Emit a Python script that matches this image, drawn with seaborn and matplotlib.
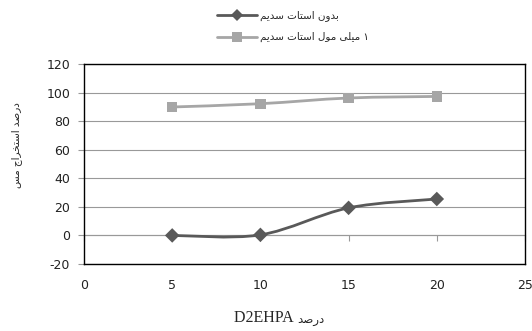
import matplotlib
matplotlib.use("Agg")
import matplotlib.pyplot as plt
import numpy as np
import pandas as pd
import seaborn as sns
from matplotlib.path import Path
from matplotlib.patches import PathPatch
from matplotlib.lines import Line2D

# ---- data -------------------------------------------------------------
d2ehpa_pct = [5, 10, 15, 20]
no_acetate = [0.0, 0.4, 19.3, 25.5]
acetate_1mm = [89.9, 92.2, 96.2, 97.3]

series_names = ["بدون استات سدیم", "۱ میلی مول استات سدیم"]
y_title = "درصد استخراج مس"
x_title_word = "درصد"
x_title_latin = "D2EHPA"
x_ticks = [0, 5, 10, 15, 20, 25]
y_ticks = [-20, 0, 20, 40, 60, 80, 100, 120]

# ---- minimal Persian shaping (presentation forms, visual order) -------
# forms: isolated, final, initial, medial
FORMS = {
    "ا": ("\uFE8D", "\uFE8E", None, None),
    "ب": ("\uFE8F", "\uFE90", "\uFE91", "\uFE92"),
    "ت": ("\uFE95", "\uFE96", "\uFE97", "\uFE98"),
    "ج": ("\uFE9D", "\uFE9E", "\uFE9F", "\uFEA0"),
    "خ": ("\uFEA5", "\uFEA6", "\uFEA7", "\uFEA8"),
    "د": ("\uFEA9", "\uFEAA", None, None),
    "ر": ("\uFEAD", "\uFEAE", None, None),
    "س": ("\uFEB1", "\uFEB2", "\uFEB3", "\uFEB4"),
    "ص": ("\uFEB9", "\uFEBA", "\uFEBB", "\uFEBC"),
    "ل": ("\uFEDD", "\uFEDE", "\uFEDF", "\uFEE0"),
    "م": ("\uFEE1", "\uFEE2", "\uFEE3", "\uFEE4"),
    "ن": ("\uFEE5", "\uFEE6", "\uFEE7", "\uFEE8"),
    "و": ("\uFEED", "\uFEEE", None, None),
    "ی": ("\uFEEF", "\uFEF0", "\uFEF3", "\uFEF4"),
}


def shape(text):
    out = []
    chars = list(text)
    for i, c in enumerate(chars):
        if c not in FORMS:
            out.append(c)
            continue
        prev = chars[i - 1] if i > 0 else None
        nxt = chars[i + 1] if i + 1 < len(chars) else None
        joins_prev = prev in FORMS and FORMS[prev][2] is not None
        joins_next = nxt in FORMS and FORMS[c][2] is not None
        iso, fin, ini, med = FORMS[c]
        if joins_prev and joins_next:
            out.append(med)
        elif joins_prev:
            out.append(fin)
        elif joins_next:
            out.append(ini)
        else:
            out.append(iso)
    return "".join(reversed(out))


def bezier_path(xs, ys):
    """Smoothed line through the points (Catmull-Rom as cubic Bezier)."""
    pts = np.column_stack([xs, ys]).astype(float)
    n = len(pts)
    verts = [pts[0]]
    codes = [Path.MOVETO]
    for i in range(n - 1):
        p_prev = pts[max(i - 1, 0)]
        p0, p1 = pts[i], pts[i + 1]
        p_next = pts[min(i + 2, n - 1)]
        c1 = p0 + (p1 - p_prev) / 6.0
        c2 = p1 - (p_next - p0) / 6.0
        verts += [c1, c2, p1]
        codes += [Path.CURVE4] * 3
    return Path(verts, codes)


# ---- figure -----------------------------------------------------------
sns.set_theme(style="white")
plt.rcParams["font.family"] = ["DejaVu Sans"]

fig = plt.figure(figsize=(5.32, 3.31), dpi=100)
ax = fig.add_axes([84 / 532, 1 - 264 / 331, (525 - 84) / 532, 200 / 331])

colors = ["#595959", "#a6a6a6"]
markers = ["D", "s"]
msizes = [6.0, 7.5]
values = [no_acetate, acetate_1mm]

df = pd.DataFrame({
    "x": d2ehpa_pct * 2,
    "y": no_acetate + acetate_1mm,
    "series": [series_names[0]] * 4 + [series_names[1]] * 4,
})

for k, name in enumerate(series_names):
    ax.add_patch(PathPatch(bezier_path(d2ehpa_pct, values[k]), fill=False,
                           edgecolor=colors[k], lw=2.0, zorder=3,
                           capstyle="round", joinstyle="round"))

sns.scatterplot(data=df, x="x", y="y", hue="series", style="series",
                palette=dict(zip(series_names, colors)),
                markers=dict(zip(series_names, markers)),
                s=55, linewidth=0, legend=False, ax=ax, zorder=4)

ax.set_xlim(0, 25)
ax.set_ylim(-20, 120)
ax.set_xticks(x_ticks)
ax.set_yticks(y_ticks)
ax.set_xticklabels([str(t) for t in x_ticks], fontsize=9)
ax.set_yticklabels([str(t) for t in y_ticks], fontsize=9)
ax.set_xlabel("")
ax.set_ylabel("")
ax.yaxis.grid(True, color="#999999", lw=0.8)
ax.xaxis.grid(False)
for sp in ax.spines.values():
    sp.set_color("black")
    sp.set_linewidth(1.0)
ax.tick_params(axis="y", direction="out", length=4, width=0.8,
               color="#999999", pad=6, left=True, labelcolor="#222222")
ax.tick_params(axis="x", length=0, pad=11, labelcolor="#222222")

# horizontal axis line crossing at zero with its tick marks
sec = ax.secondary_xaxis(20 / 140)
sec.set_xticks(x_ticks)
sec.tick_params(axis="x", direction="out", length=4, width=0.8,
                color="#999999", labelbottom=False, bottom=True)
sec.spines["bottom"].set_color("#999999")
sec.spines["bottom"].set_linewidth(0.8)

# legend
handles = [Line2D([], [], color=colors[k], lw=2.0, marker=markers[k],
                  markersize=msizes[k], markeredgewidth=0)
           for k in range(2)]
fig.legend(handles, [shape(t) if not t.startswith("۱") else
                     shape(t[1:].strip()) + " ۱" for t in series_names],
           loc="upper left", bbox_to_anchor=(208 / 532, 1 - 1 / 331),
           frameon=False, fontsize=7.5, handlelength=3.8,
           handletextpad=0.3, labelspacing=1.05)

# axis titles
fig.text(17 / 532, 1 - 145 / 331, shape(y_title), rotation=90,
         ha="center", va="center", fontsize=7.5)
fig.text(297 / 532, 1 - 318 / 331, x_title_latin + " ", ha="right",
         va="center", fontsize=11.5, family="Liberation Serif")
fig.text(297 / 532, 1 - 319 / 331, shape(x_title_word), ha="left",
         va="center", fontsize=8.5)

fig.savefig("out.png", dpi=100)
